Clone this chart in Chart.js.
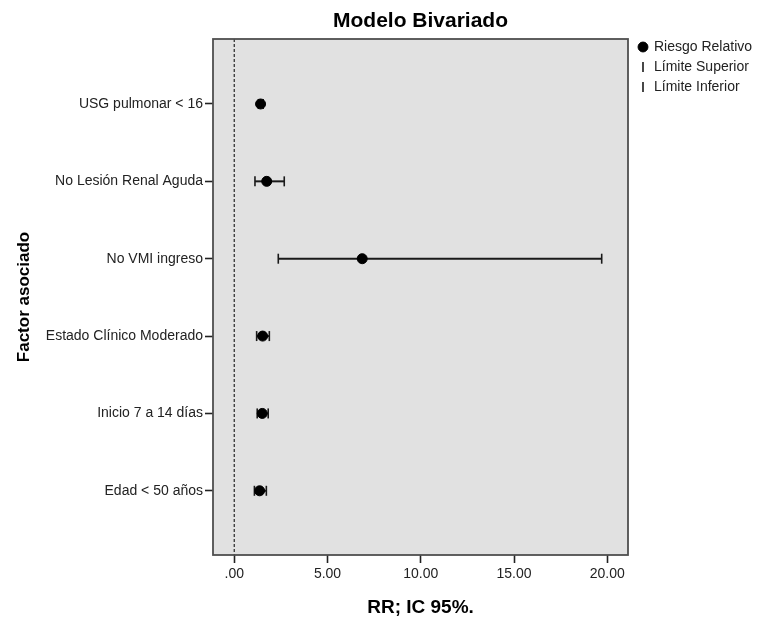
<!DOCTYPE html>
<html>
<head>
<meta charset="utf-8">
<script src="https://cdn.jsdelivr.net/npm/chart.js@4"></script>
<style>
  body { margin: 0; background: #fff; }
  #wrap { width: 757px; height: 617px; }
</style>
</head>
<body>
<div id="wrap"><canvas id="forest" width="757" height="617"></canvas></div>
<script>
// factores y valores
const categories = ['USG pulmonar < 16', 'No Lesión Renal Aguda', 'No VMI ingreso', 'Estado Clínico Moderado', 'Inicio 7 a 14 días', 'Edad < 50 años'];
const rr = [1.41, 1.74, 6.86, 1.52, 1.50, 1.36];
const lower = [1.30, 1.11, 2.36, 1.20, 1.23, 1.08];
const upper = [1.55, 2.68, 19.70, 1.88, 1.82, 1.72];
const xTicks = [0, 5, 10, 15, 20];

const FONT = "'Liberation Sans', Arial, sans-serif";
Chart.defaults.font.family = FONT;
Chart.defaults.color = '#222';

const toPoints = arr => arr.map((v, i) => ({ x: v, y: i }));

// fondo gris, línea de referencia en 0 y barras de IC
const plotPlugin = {
    id: 'plotPlugin',
    beforeDraw(chart) {
        const a = chart.chartArea;
        const ctx = chart.ctx;
        ctx.save();
        ctx.fillStyle = '#e1e1e1';
        ctx.fillRect(a.left, a.top, a.right - a.left, a.bottom - a.top);
        ctx.restore();
    },
    beforeDatasetsDraw(chart) {
        const a = chart.chartArea;
        const ctx = chart.ctx;
        const xs = chart.scales.x;
        const ys = chart.scales.y;
        ctx.save();
        // línea punteada en RR = 0
        const x0 = xs.getPixelForValue(0);
        ctx.strokeStyle = '#333';
        ctx.lineWidth = 1.3;
        ctx.setLineDash([3, 2]);
        ctx.beginPath();
        ctx.moveTo(x0, a.top);
        ctx.lineTo(x0, a.bottom);
        ctx.stroke();
        // segmento entre límite inferior y superior
        ctx.setLineDash([]);
        ctx.strokeStyle = '#1a1a1a';
        ctx.lineWidth = 2;
        categories.forEach((_, i) => {
            const y = ys.getPixelForValue(i);
            ctx.beginPath();
            ctx.moveTo(xs.getPixelForValue(lower[i]), y);
            ctx.lineTo(xs.getPixelForValue(upper[i]), y);
            ctx.stroke();
        });
        ctx.restore();
    },
    afterDatasetsDraw(chart) {
        const a = chart.chartArea;
        const ctx = chart.ctx;
        ctx.save();
        ctx.strokeStyle = '#4f4f4f';
        ctx.lineWidth = 1.8;
        ctx.strokeRect(a.left, a.top, a.right - a.left, a.bottom - a.top);
        ctx.restore();
    }
};

new Chart(document.getElementById('forest'), {
    type: 'scatter',
    data: {
        datasets: [
            {
                label: 'Riesgo Relativo',
                data: toPoints(rr),
                pointStyle: 'circle',
                pointRadius: 5,
                borderWidth: 1,
                borderColor: '#000',
                backgroundColor: '#000'
            },
            {
                label: 'Límite Superior',
                data: toPoints(upper),
                pointStyle: 'line',
                rotation: 90,
                pointRadius: 5,
                borderWidth: 1.6,
                borderColor: '#1a1a1a',
                backgroundColor: '#1a1a1a'
            },
            {
                label: 'Límite Inferior',
                data: toPoints(lower),
                pointStyle: 'line',
                rotation: 90,
                pointRadius: 5,
                borderWidth: 1.6,
                borderColor: '#1a1a1a',
                backgroundColor: '#1a1a1a'
            }
        ]
    },
    options: {
        responsive: false,
        animation: false,
        layout: { padding: 0 },
        plugins: {
            tooltip: { enabled: false },
            title: {
                display: true,
                text: 'Modelo Bivariado',
                fullSize: false,
                color: '#000',
                font: { size: 21, weight: 'bold' },
                padding: { top: 8.4, bottom: 5.4 }
            },
            legend: {
                position: 'right',
                align: 'start',
                fullSize: true,
                maxWidth: 124,
                title: { display: true, text: ' ', font: { size: 14, lineHeight: '34px' }, padding: 0 },
                labels: {
                    usePointStyle: true,
                    boxWidth: 8,
                    boxHeight: 7,
                    padding: 6,
                    color: '#222',
                    font: { size: 14 }
                }
            }
        },
        scales: {
            x: {
                type: 'linear',
                min: -1.14,
                max: 21.11,
                afterBuildTicks: s => { s.ticks = xTicks.map(v => ({ value: v })); },
                afterFit: s => { s.height = 62; },
                grid: { drawOnChartArea: false, drawTicks: true, tickLength: 8, tickWidth: 1.6, color: '#222' },
                border: { display: false },
                ticks: {
                    padding: 3,
                    color: '#222',
                    font: { size: 14 },
                    callback: v => v === 0 ? '.00' : v.toFixed(2)
                },
                title: {
                    display: true,
                    text: 'RR; IC 95%.',
                    color: '#000',
                    font: { size: 19, weight: 'bold', lineHeight: 1 },
                    padding: 0
                }
            },
            y: {
                type: 'linear',
                reverse: true,
                min: -0.84,
                max: 5.83,
                afterBuildTicks: s => { s.ticks = categories.map((_, i) => ({ value: i })); },
                afterFit: s => { s.width = 213; },
                grid: { drawOnChartArea: false, drawTicks: true, tickLength: 8, tickWidth: 1.6, color: '#222' },
                border: { display: false },
                ticks: {
                    autoSkip: false,
                    padding: 2,
                    color: '#222',
                    font: { size: 14 },
                    callback: v => categories[v]
                },
                title: {
                    display: true,
                    text: 'Factor asociado',
                    color: '#000',
                    font: { size: 17, weight: 'bold' },
                    padding: { top: 13.8, bottom: 0 }
                }
            },
            // eje vacío para dejar el hueco entre el marco y la leyenda
            gap: {
                type: 'linear',
                position: 'right',
                display: true,
                grid: { display: false, drawTicks: false },
                border: { display: false },
                ticks: { display: false },
                afterFit: s => { s.width = 5; }
            }
        }
    },
    plugins: [plotPlugin]
});
</script>
</body>
</html>
